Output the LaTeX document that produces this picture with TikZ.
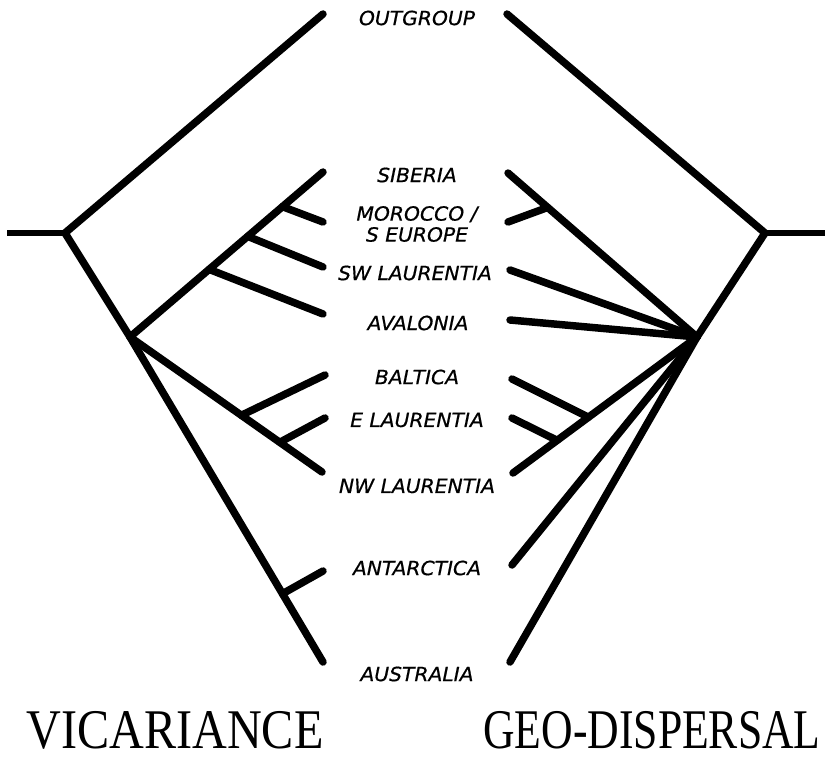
\documentclass[tikz,border=0pt]{standalone}
\usepackage{fontspec}
\usetikzlibrary{calc}
\newfontfamily\lblfont[FakeStretch=1.04,FakeBold=0.6]{DejaVu Sans}
\newfontfamily\ttlfont{Liberation Serif}
\tikzset{
  branch/.style={line width=7.5pt, line cap=round},
  stemline/.style={line width=5.5pt},
  lbl/.style={font=\lblfont\itshape\fontsize{19.5}{21}\selectfont, inner sep=0pt, align=center},
  ttl/.style={font=\ttlfont\fontsize{56}{60}\selectfont, inner sep=0pt, anchor=base}
}
\begin{document}
\begin{tikzpicture}[x=1pt,y=-1pt]
\useasboundingbox (0,0) rectangle (825,766);
% ---------- labels
\node[lbl] (tOut) at (417,18) {OUTGROUP};
\node[lbl] (tSib) at (417,175) {SIBERIA};
\node[lbl] (tMor) at (417,224) {MOROCCO /\\ S EUROPE};
\node[lbl] (tSW) at (415,273) {SW LAURENTIA};
\node[lbl] (tAva) at (418,323) {AVALONIA};
\node[lbl] (tBal) at (417,377) {BALTICA};
\node[lbl] (tEL) at (417,420) {E LAURENTIA};
\node[lbl] (tNW) at (417,486) {NW LAURENTIA};
\node[lbl] (tAnt) at (417,568) {ANTARCTICA};
\node[lbl] (tAus) at (417,674) {AUSTRALIA};
\node[ttl] (vic) at (175,748) {\scalebox{0.86}[1]{VICARIANCE}};
\node[ttl] (geo) at (652,748) {\scalebox{0.78}[1]{GEO-DISPERSAL}};
% ---------- left tree (vicariance)
\coordinate (lStem) at (7,233);
\coordinate (L0) at (65,233);
\coordinate (L1) at (130,337);
\coordinate (lOut) at (323,14);
\coordinate (lSib) at (323,172);
\coordinate (lMor) at (323,222);
\coordinate (lSW) at (323,267);
\coordinate (lAva) at (323,314);
\coordinate (lBal) at (325,375);
\coordinate (lEL) at (325,418);
\coordinate (lNW) at (322,472);
\coordinate (lAnt) at (323,571);
\coordinate (lAus) at (323,662);
\coordinate (jlMor) at ($(L1)!0.79!(lSib)$);
\coordinate (jlSW) at ($(L1)!0.61!(lSib)$);
\coordinate (jlAva) at ($(L1)!0.41!(lSib)$);
\coordinate (jlBal) at ($(L1)!0.58!(lNW)$);
\coordinate (jlEL) at ($(L1)!0.78!(lNW)$);
\coordinate (jlAnt) at ($(L1)!0.79!(lAus)$);
\draw[stemline] (lStem) -- (L0);
\draw[branch] (lOut) -- (L0) -- (L1);
\draw[branch] (lSib) -- (L1);
\draw[branch] (jlMor) -- (lMor);
\draw[branch] (jlSW) -- (lSW);
\draw[branch] (jlAva) -- (lAva);
\draw[branch] (L1) -- (lNW);
\draw[branch] (jlBal) -- (lBal);
\draw[branch] (jlEL) -- (lEL);
\draw[branch] (L1) -- (lAus);
\draw[branch] (jlAnt) -- (lAnt);
% ---------- right tree (geo-dispersal)
\coordinate (rStem) at (825,233);
\coordinate (R0) at (765,233);
\coordinate (R1) at (697,337);
\coordinate (rOut) at (507,14);
\coordinate (rSib) at (508,173);
\coordinate (rMor) at (508,222);
\coordinate (rSW) at (510,270);
\coordinate (rAva) at (510,320);
\coordinate (rBal) at (512,379);
\coordinate (rEL) at (512,418);
\coordinate (rNW) at (513,473);
\coordinate (rAnt) at (512,565);
\coordinate (rAus) at (510,662);
\coordinate (jrMor) at ($(rSib)!0.21!(R1)$);
\coordinate (jrBal) at ($(rNW)!0.41!(R1)$);
\coordinate (jrEL) at ($(rNW)!0.24!(R1)$);
\draw[stemline] (rStem) -- (R0);
\draw[branch] (rOut) -- (R0) -- (R1);
\draw[branch] (rSib) -- (R1);
\draw[branch] (rMor) -- (jrMor);
\draw[branch] (rSW) -- (R1);
\draw[branch] (rAva) -- (R1);
\draw[branch] (rNW) -- (R1);
\draw[branch] (rBal) -- (jrBal);
\draw[branch] (rEL) -- (jrEL);
\draw[branch] (rAnt) -- (R1);
\draw[branch] (rAus) -- (R1);
\end{tikzpicture}
\end{document}
